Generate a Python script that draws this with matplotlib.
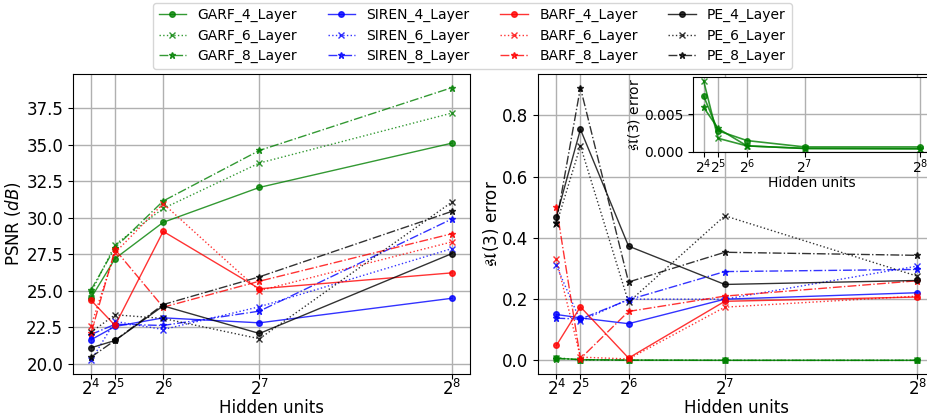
import numpy as np
import matplotlib
matplotlib.use("Agg")
import matplotlib.pyplot as plt

# hidden units
units = [16, 32, 64, 128, 256]
tick_labels = ["$2^4$", "$2^5$", "$2^6$", "$2^7$", "$2^8$"]

methods = ["GARF", "SIREN", "BARF", "PE"]
layers = [4, 6, 8]

# PSNR (dB)
psnr_garf4 = [24.5, 27.2, 29.68, 32.07, 35.1]
psnr_garf6 = [24.85, 28.15, 30.63, 33.74, 37.16]
psnr_garf8 = [25.05, 27.95, 31.14, 34.6, 38.9]
psnr_siren4 = [21.64, 22.55, 23.14, 22.8, 24.48]
psnr_siren6 = [20.23, 22.9, 22.34, 23.9, 27.88]
psnr_siren8 = [22.0, 22.7, 22.62, 23.6, 29.91]
psnr_barf4 = [24.35, 22.62, 29.06, 25.13, 26.22]
psnr_barf6 = [22.6, 27.6, 30.96, 25.0, 28.34]
psnr_barf8 = [22.07, 27.82, 23.87, 25.65, 28.9]
psnr_pe4 = [21.09, 21.59, 23.96, 22.07, 27.54]
psnr_pe6 = [22.16, 23.35, 23.1, 21.71, 31.07]
psnr_pe8 = [20.45, 21.6, 24.05, 25.95, 30.43]

# sl(3) error
err_garf4 = [0.0074, 0.0028, 0.0015, 0.00066, 0.00066]
err_garf6 = [0.0094, 0.0018, 0.0008, 0.00047, 0.00045]
err_garf8 = [0.0059, 0.0031, 0.0008, 0.00045, 0.0004]
err_siren4 = [0.150, 0.139, 0.12, 0.2, 0.221]
err_siren6 = [0.31, 0.128, 0.2, 0.2, 0.308]
err_siren8 = [0.138, 0.135, 0.198, 0.29, 0.297]
err_barf4 = [0.049, 0.175, 0.008, 0.193, 0.207]
err_barf6 = [0.33, 0.011, 0.005, 0.174, 0.21]
err_barf8 = [0.501, 0.006, 0.16, 0.21, 0.26]
err_pe4 = [0.468, 0.754, 0.373, 0.248, 0.261]
err_pe6 = [0.444, 0.70, 0.19, 0.472, 0.275]
err_pe8 = [0.45, 0.89, 0.256, 0.353, 0.343]

psnr = {
    "GARF": [psnr_garf4, psnr_garf6, psnr_garf8],
    "SIREN": [psnr_siren4, psnr_siren6, psnr_siren8],
    "BARF": [psnr_barf4, psnr_barf6, psnr_barf8],
    "PE": [psnr_pe4, psnr_pe6, psnr_pe8],
}
err = {
    "GARF": [err_garf4, err_garf6, err_garf8],
    "SIREN": [err_siren4, err_siren6, err_siren8],
    "BARF": [err_barf4, err_barf6, err_barf8],
    "PE": [err_pe4, err_pe6, err_pe8],
}

colors = {"GARF": "green", "SIREN": "blue", "BARF": "red", "PE": "black"}
styles = [("-", "o", 4), (":", "x", 4), ("-.", "*", 5)]

fig = plt.figure(figsize=(9.27, 4.19), dpi=100)
ax1 = fig.add_axes([0.0787, 0.1074, 0.4283, 0.716])
ax2 = fig.add_axes([0.5807, 0.1074, 0.4283, 0.716])
axin = fig.add_axes([0.7473, 0.6365, 0.257, 0.179])

handles = []
labels = []
for m in methods:
    for i, n in enumerate(layers):
        ls, mk, ms = styles[i]
        h, = ax1.plot(units, psnr[m][i], color=colors[m], linestyle=ls, marker=mk,
                      markersize=ms, linewidth=1.0, alpha=0.8)
        ax2.plot(units, err[m][i], color=colors[m], linestyle=ls, marker=mk,
                 markersize=ms, linewidth=1.0, alpha=0.8)
        handles.append(h)
        labels.append(f"{m}_{n}_Layer")

# inset: zoom on the GARF curves
for i, n in enumerate(layers):
    ls, mk, ms = styles[i]
    axin.plot(units, err["GARF"][i], color="green", linestyle="-", marker=mk,
              markersize=ms, linewidth=1.2, alpha=0.8)

for ax in (ax1, ax2):
    ax.set_xticks(units)
    ax.set_xticklabels(tick_labels, fontsize=12)
    ax.tick_params(axis="y", labelsize=12)
    ax.tick_params(axis="x", pad=0)
    ax.grid(True, linewidth=1.0)
    ax.set_xlabel("Hidden units", fontsize=12, labelpad=0)

ax1.set_ylabel("PSNR ($dB$)", fontsize=12, labelpad=2)
ax2.set_ylabel(r"$\mathfrak{sl}(3)$ error", fontsize=12, labelpad=1)

axin.set_xticks(units)
axin.set_xticklabels(tick_labels, fontsize=10)
axin.tick_params(axis="y", labelsize=10)
axin.tick_params(axis="x", pad=0)
axin.grid(True, linewidth=1.0)
axin.set_xlabel("Hidden units", fontsize=10, labelpad=0)
axin.set_ylabel(r"$\mathfrak{sl}(3)$ error", fontsize=10, labelpad=1)

fig.legend(handles, labels, loc="upper left", bbox_to_anchor=(0.162, 1.0),
           ncol=4, fontsize=10, handlelength=2.0, borderaxespad=0.2,
           labelspacing=0.45, columnspacing=2.2)

fig.savefig("out.png", dpi=100)
